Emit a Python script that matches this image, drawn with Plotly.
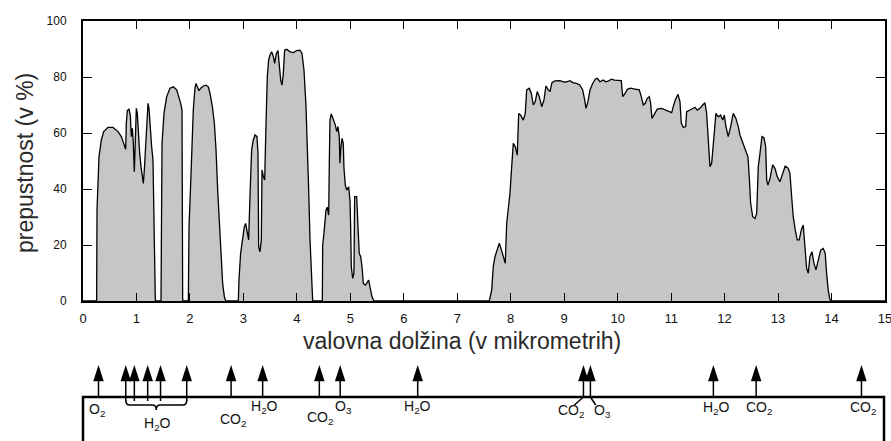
import plotly.graph_objects as go

# ---------------- atmospheric transmission bands ----------------
# wavelength in micrometres, transmittance in percent
band1_um = [0.255, 0.262, 0.299, 0.343, 0.387, 0.468, 0.561, 0.655, 0.717, 0.761,
            0.798, 0.810, 0.829, 0.860, 0.885, 0.904, 0.923, 0.941, 0.960, 0.979,
            0.997, 1.016, 1.035, 1.060, 1.085, 1.110, 1.128, 1.147, 1.172, 1.197,
            1.216, 1.234, 1.259, 1.284, 1.309, 1.328, 1.340, 1.353]
band1_pct = [0, 32.5, 51.5, 57.5, 60.5, 62, 62, 60.5, 58.7, 56.3,
             54.2, 63.5, 68, 68.5, 66.4, 58.7, 61.7, 56.3, 46.2, 57.5,
             68.8, 67, 59.9, 52.7, 48, 43.2, 42, 46.8, 57.5, 68.2,
             70.6, 68.8, 61.1, 55.1, 50.4, 25.4, 6.3, 0]

band2_um = [1.459, 1.465, 1.478, 1.515, 1.565, 1.627, 1.689, 1.752, 1.790, 1.827,
            1.852, 1.858, 1.864]
band2_pct = [0, 22, 56.3, 67, 73, 76, 76.5, 75.4, 73.3, 70.6, 68.2, 39.6, 0]

band3_um = [1.970, 1.983, 2.014, 2.038, 2.063, 2.094, 2.113, 2.138, 2.169, 2.201,
            2.251, 2.300, 2.344, 2.375, 2.419, 2.457, 2.488, 2.519, 2.551, 2.581,
            2.612, 2.644, 2.669]
band3_pct = [0, 26.5, 42, 55.1, 68.2, 76, 77.7, 76.5, 75.1, 76,
             76.8, 77.1, 76.5, 74.2, 69.4, 63.5, 53.9, 39.6, 26.5, 14.6,
             6.3, 1.5, 0]

band4_um = [2.905, 2.917, 2.948, 2.986, 3.017, 3.042, 3.073, 3.098, 3.123, 3.154,
            3.185, 3.217, 3.254, 3.273, 3.285, 3.310, 3.335, 3.348, 3.373, 3.398,
            3.423, 3.447, 3.472, 3.497, 3.528, 3.560, 3.585, 3.616, 3.647, 3.672,
            3.697, 3.722, 3.747, 3.771, 3.809, 3.871, 3.933, 3.996, 4.058, 4.096,
            4.133, 4.171, 4.196, 4.221, 4.246, 4.271, 4.296]
band4_pct = [0, 7.5, 17, 21.8, 26.5, 27.7, 24.2, 21.8, 37.3, 53.9,
             57.5, 59.3, 58.7, 52.7, 19.4, 17.6, 21.8, 46.8, 44.4, 43.2,
             63.5, 80.1, 86.1, 87.9, 89, 87.3, 84.9, 88.4, 89.4, 84.9,
             78.9, 77.1, 81.3, 89.6, 89.9, 89, 88.7, 89.4, 89.6, 88.4,
             82.5, 69.4, 57.5, 39.6, 21.8, 7.5, 0]

band5_um = [4.476, 4.483, 4.507, 4.545, 4.569, 4.595, 4.606, 4.619, 4.644, 4.681,
            4.719, 4.745, 4.769, 4.793, 4.806, 4.819, 4.844, 4.868, 4.881, 4.906,
            4.932, 4.969, 4.993, 5.006, 5.018, 5.044, 5.068, 5.081, 5.119, 5.143,
            5.167, 5.194, 5.218, 5.242, 5.280, 5.306, 5.343, 5.367, 5.405, 5.442]
band5_pct = [0, 20, 24.2, 32.5, 33.5, 30.7, 48, 64.6, 66.8, 65.2,
             62.9, 60.5, 62.3, 58.7, 49.2, 53.9, 58.1, 56.3, 47.4, 41.4,
             39.6, 40.8, 36, 26.5, 12.3, 8.1, 9.9, 37.3, 37.3, 26.5,
             17, 15.8, 12.3, 6.3, 5.7, 6.3, 7.5, 5.1, 1.5, 0]

band6_um = [7.599, 7.644, 7.673, 7.705, 7.748, 7.786, 7.817, 7.860, 7.898, 7.924,
            7.954, 7.986, 8.018, 8.048, 8.085, 8.122, 8.149, 8.186, 8.235, 8.272,
            8.298, 8.347, 8.384, 8.422, 8.459, 8.496, 8.534, 8.579, 8.622, 8.659,
            8.702, 8.734, 8.771, 8.827, 8.921, 8.996, 9.046, 9.108, 9.158, 9.233,
            9.295, 9.345, 9.383, 9.407, 9.444, 9.482, 9.532, 9.581, 9.618, 9.669,
            9.731, 9.781, 9.832, 9.880, 9.944, 10.067, 10.094, 10.142, 10.179, 10.243,
            10.324, 10.404, 10.441, 10.479, 10.516, 10.553, 10.591, 10.617, 10.641, 10.692,
            10.741, 10.823, 10.903, 11.010, 11.040, 11.077, 11.128, 11.165, 11.190, 11.227,
            11.272, 11.290, 11.352, 11.446, 11.489, 11.539, 11.590, 11.633, 11.664, 11.683,
            11.702, 11.726, 11.758, 11.801, 11.838, 11.882, 11.926, 11.964, 11.994, 12.025,
            12.068, 12.113, 12.162, 12.212, 12.256, 12.287, 12.349, 12.399, 12.437, 12.461,
            12.487, 12.525, 12.568, 12.600, 12.630, 12.662, 12.699, 12.736, 12.768, 12.787,
            12.811, 12.849, 12.899, 12.942, 12.985, 13.035, 13.086, 13.134, 13.190, 13.222,
            13.254, 13.284, 13.321, 13.359, 13.396, 13.434, 13.471, 13.503, 13.534, 13.565,
            13.596, 13.634, 13.671, 13.708, 13.752, 13.797, 13.845, 13.882, 13.908, 13.938,
            13.971, 14.002]
band6_pct = [0, 3.9, 12.3, 15.8, 18.2, 20.6, 18.8, 15.8, 13.5, 27.7,
             33.7, 38.5, 48, 56.3, 55.1, 52.1, 67, 66.4, 64.6, 67,
             75.4, 76, 74.2, 70, 71.2, 74.8, 73, 69.4, 71.8, 76.8,
             75.4, 74.8, 78, 78.6, 78.7, 78.2, 78.3, 78.7, 78, 77.7,
             77.1, 75.4, 71.8, 68.8, 71.2, 75.4, 77.7, 79.2, 79.5, 78.3,
             78.9, 78.3, 78.6, 79.2, 78.9, 78.7, 73, 74.2, 75.6, 76,
             75.7, 75.4, 73, 70, 70.6, 72.4, 73, 70.6, 65.2, 67,
             68.5, 68.8, 68.2, 67.3, 69.4, 71.8, 73.8, 71.2, 63.5, 62,
             62.3, 67.6, 68.2, 69.2, 68.2, 68.8, 70, 70.8, 67, 59.9,
             55.1, 48, 49.2, 58.7, 67, 65.8, 66.4, 64.6, 66.4, 62.3,
             58.7, 62.3, 67, 65.2, 62.3, 59.3, 56.3, 53.9, 51.5, 44.4,
             34.9, 30.1, 29.5, 31.3, 48, 52.7, 58.7, 58.3, 55.1, 43.2,
             41.4, 43.8, 48.6, 47.4, 44.4, 42.6, 45.6, 48.2, 47.4, 45.6,
             37.3, 30.1, 25.4, 21.8, 21.8, 25.4, 27.1, 20, 11.7, 9.9,
             15.8, 17.6, 13.5, 11.1, 15.2, 18.2, 18.8, 17, 9.9, 3.9,
             0.4, 0]

# ---------------- absorbing gases ----------------
arrow_um = [0.29, 0.80, 0.96, 1.21, 1.45, 1.94, 2.77, 3.36, 4.42, 4.81,
            6.26, 9.36, 9.49, 11.79, 12.59, 14.56]
arrow_gas = ["O2", "H2O", "H2O", "H2O", "H2O", "H2O", "CO2", "H2O", "CO2", "O3",
             "H2O", "CO2", "O3", "H2O", "CO2", "CO2"]
h2o_group = [1, 2, 3, 4, 5]          # near-IR water bands share one label

x_ticks = list(range(0, 16))
y_ticks = [0, 20, 40, 60, 80, 100]

# ---------------- layout geometry (pixels) ----------------
W, H = 891, 441
PL, PR, PT, PB = 83, 885, 21, 301        # main plot frame
LOW_TOP = 365                            # arrow tips
BOX_TOP = 397                            # top edge of the lower box
FONT = "Liberation Sans, Arial, Helvetica, sans-serif"


def v2(py):
    """pixel row -> value on the lower (arrow) axis"""
    return (H - py) / (H - LOW_TOP)


def sub(name):
    return name.replace("2", "<sub>2</sub>").replace("3", "<sub>3</sub>")


# full curve, zero between the windows
bands = [(band1_um, band1_pct), (band2_um, band2_pct), (band3_um, band3_pct),
         (band4_um, band4_pct), (band5_um, band5_pct), (band6_um, band6_pct)]
wl, tr = [0.0], [0.0]
for bx, by in bands:
    wl += bx
    tr += by
wl.append(15.0)
tr.append(0.0)

fig = go.Figure()
fig.add_trace(go.Scatter(
    x=wl, y=tr, mode="lines",
    line=dict(color="black", width=1.3),
    fill="tozeroy", fillcolor="#c6c6c6",
    hoverinfo="skip", showlegend=False,
))

# arrow shafts
tip_v = 1.0
box_v = v2(BOX_TOP)
brace_v = v2(405)
sx, sy = [], []
for i, u in enumerate(arrow_um):
    bottom = v2(401) if i in h2o_group else box_v
    sx += [u, u, None]
    sy += [bottom, tip_v - 0.15, None]
# short leaders from the 9.4 / 9.5 arrows down to their labels
sx += [arrow_um[11], arrow_um[11] - 0.17, None, arrow_um[12], arrow_um[12] + 0.1, None]
sy += [box_v, v2(405), None, box_v, v2(405), None]
fig.add_trace(go.Scatter(
    x=sx, y=sy, yaxis="y2", mode="lines",
    line=dict(color="black", width=1.5),
    hoverinfo="skip", showlegend=False, cliponaxis=False,
))
# arrow heads
fig.add_trace(go.Scatter(
    x=arrow_um, y=[tip_v] * len(arrow_um), yaxis="y2", mode="markers",
    marker=dict(symbol="arrow", size=17, color="black", line=dict(width=0)),
    hoverinfo="skip", showlegend=False, cliponaxis=False,
))

# brace under the grouped water arrows
g0, g1 = arrow_um[h2o_group[0]], arrow_um[h2o_group[-1]]
gc = 1.37
r = 0.07
top = v2(400)
dip = v2(410)
brace = (f"M {g0},{top} Q {g0},{brace_v} {g0 + r},{brace_v} "
         f"L {gc - r},{brace_v} Q {gc},{brace_v} {gc},{dip} "
         f"Q {gc},{brace_v} {gc + r},{brace_v} "
         f"L {g1 - r},{brace_v} Q {g1},{brace_v} {g1},{top}")

shapes = [
    dict(type="path", path=brace, xref="x", yref="y2",
         line=dict(color="black", width=1.5)),
    # lower box (left, top, right edges)
    dict(type="path", xref="paper", yref="paper",
         path=(f"M {PL / W},{-0.05} L {PL / W},{1 - BOX_TOP / H} "
               f"L {(PR - 1) / W},{1 - BOX_TOP / H} L {(PR - 1) / W},{-0.05}"),
         line=dict(color="black", width=2.5)),
]

# gas labels: arrow index -> (x shift px, label row px)
label_rows = {0: (-2, 410), 6: (2, 420), 7: (2, 407), 8: (1, 418), 9: (3, 407),
              10: (0, 407), 11: (-12, 411), 12: (12, 411), 13: (3, 408),
              14: (3, 408), 15: (2, 408)}
annotations = []
for i, (dx, row) in label_rows.items():
    annotations.append(dict(
        x=arrow_um[i], y=v2(row), xref="x", yref="y2", xshift=dx,
        text=sub(arrow_gas[i]), showarrow=False,
        font=dict(family=FONT, size=14, color="#111"),
        xanchor="center", yanchor="middle"))
annotations.append(dict(
    x=gc, y=v2(424), xref="x", yref="y2", xshift=1,
    text=sub(arrow_gas[h2o_group[0]]), showarrow=False,
    font=dict(family=FONT, size=14, color="#111"),
    xanchor="center", yanchor="middle"))

# axis titles
annotations.append(dict(
    x=25 / W, y=1 - 163 / H, xref="paper", yref="paper",
    text="prepustnost (v %)", textangle=-90, showarrow=False,
    font=dict(family=FONT, size=23, color="#2a2a2a"),
    xanchor="center", yanchor="middle"))
annotations.append(dict(
    x=462 / W, y=1 - 341 / H, xref="paper", yref="paper",
    text="valovna dolžina (v mikrometrih)", showarrow=False,
    font=dict(family=FONT, size=23, color="#2a2a2a"),
    xanchor="center", yanchor="middle"))

fig.update_layout(
    width=W, height=H,
    margin=dict(l=0, r=0, t=0, b=0),
    paper_bgcolor="white", plot_bgcolor="white",
    showlegend=False,
    xaxis=dict(
        domain=[PL / W, PR / W], range=[0, 15], automargin=False,
        tickmode="array", tickvals=x_ticks, ticktext=[str(t) for t in x_ticks],
        ticks="inside", ticklen=8, tickwidth=1.3, tickcolor="black",
        showline=True, linewidth=2, linecolor="black", mirror="ticks",
        showgrid=False, zeroline=False, ticklabelstandoff=4,
        ticklabeloverflow="allow",
        tickfont=dict(family=FONT, size=13, color="#111"),
        fixedrange=True, anchor="y",
    ),
    yaxis=dict(
        domain=[1 - PB / H, 1 - PT / H], range=[0, 100], automargin=False,
        tickmode="array", tickvals=y_ticks, ticktext=[str(t) for t in y_ticks],
        ticks="inside", ticklen=9, tickwidth=1.3, tickcolor="black",
        showline=True, linewidth=2, linecolor="black", mirror="ticks",
        showgrid=False, zeroline=False, ticklabelstandoff=12,
        ticklabeloverflow="allow",
        tickfont=dict(family=FONT, size=12, color="#111"),
        fixedrange=True, anchor="x",
    ),
    yaxis2=dict(
        domain=[0, (H - LOW_TOP) / H], range=[0, 1], automargin=False,
        visible=False, fixedrange=True, anchor="x",
    ),
    shapes=shapes,
    annotations=annotations,
)

fig.write_html("out.html")
